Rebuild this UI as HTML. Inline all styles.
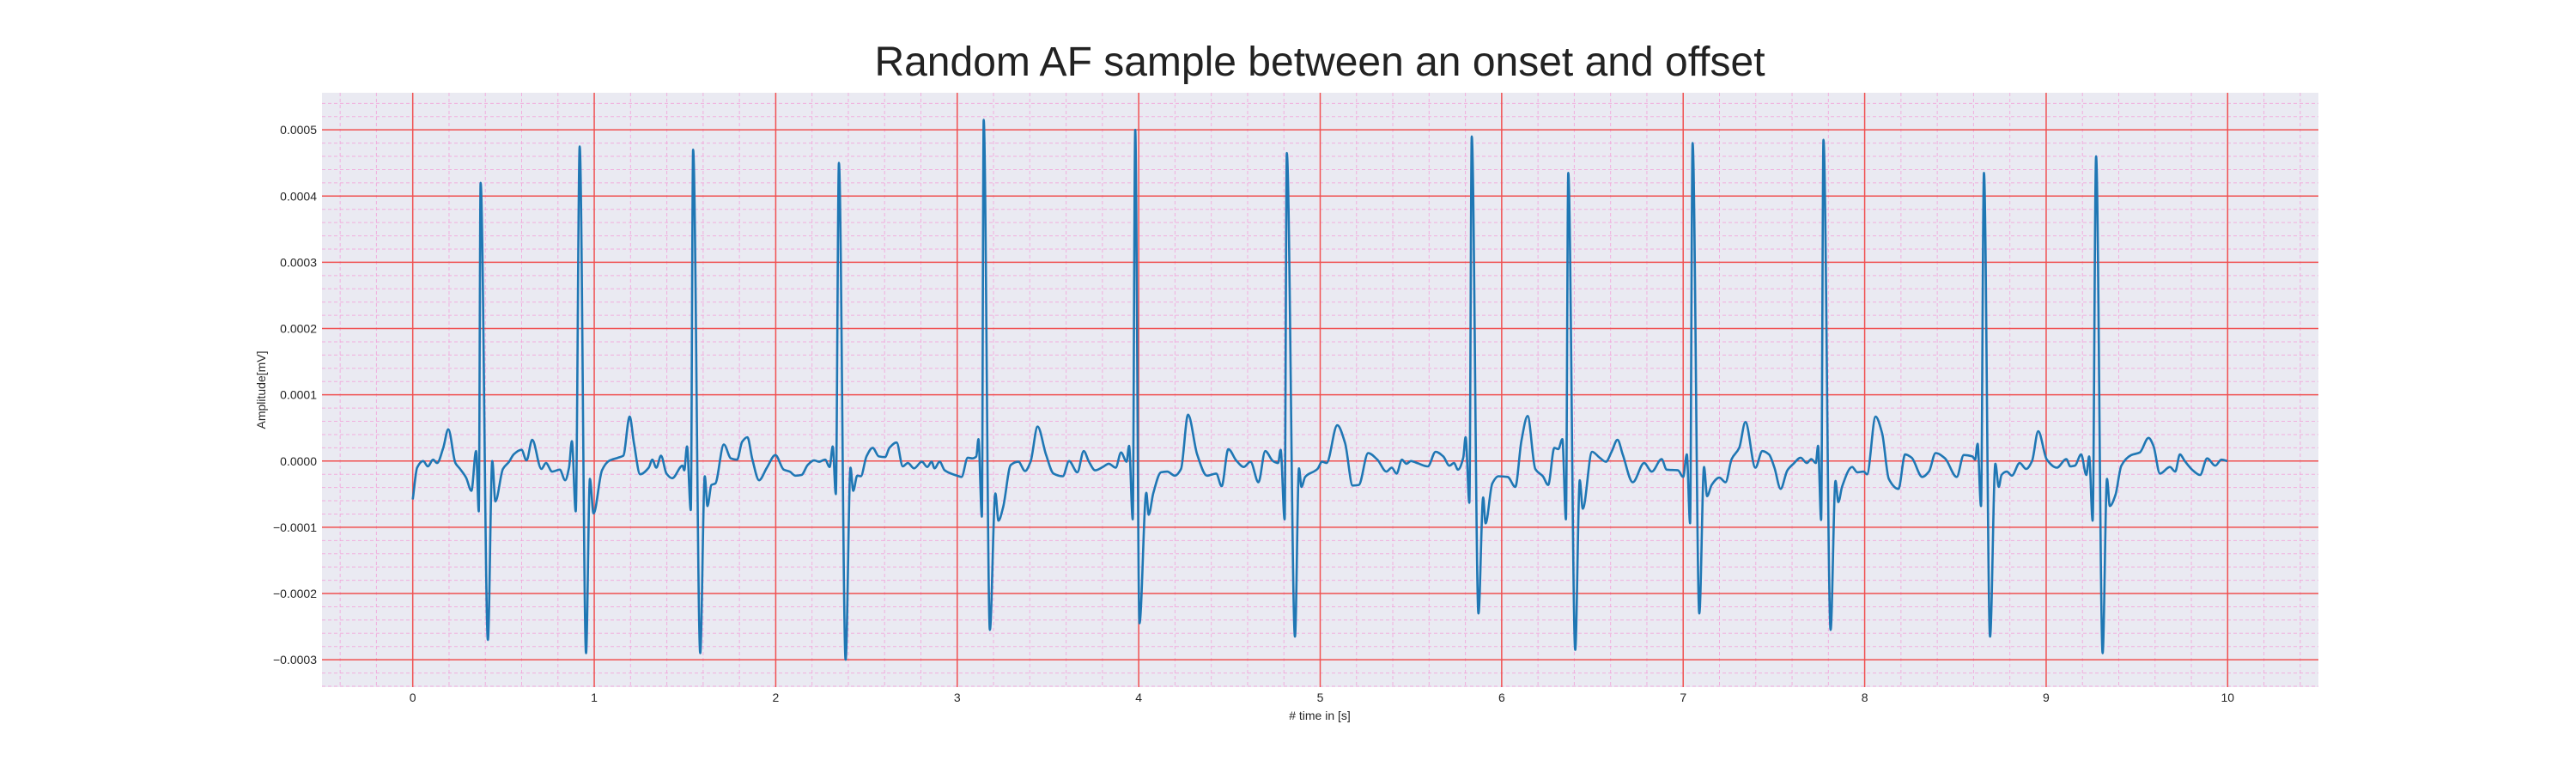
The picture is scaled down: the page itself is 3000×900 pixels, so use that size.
<!DOCTYPE html>
<html><head><meta charset="utf-8"><title>Random AF sample</title>
<style>html,body{margin:0;padding:0;background:#fff}svg{display:block}text{font-family:"Liberation Sans",sans-serif}</style>
</head><body>
<svg id="chart" width="3000" height="900" viewBox="0 0 3000 900" xmlns="http://www.w3.org/2000/svg">
<text x="1537" y="88" font-size="48" text-anchor="middle" fill="#222">Random AF sample between an onset and offset</text>
<rect x="375" y="108" width="2325" height="692" fill="#eaeaf2"/>
<g id="grid"></g>
<g id="ticks"></g>
<g id="series"></g>
<text x="1537" y="838" font-size="14" text-anchor="middle" fill="#262626"># time in [s]</text>
<text x="0" y="0" font-size="14" text-anchor="middle" fill="#262626" transform="translate(309,454) rotate(-90)">Amplitude[mV]</text>
</svg>
<script>
// data: time in seconds, amplitude in units of 1e-5 mV
const times = [0,0.024,0.058,0.083,0.112,0.134,0.168,0.196,0.235,0.261,0.294,0.323,0.349,0.364,0.374,0.414,0.438,0.455,0.497,0.531,0.556,0.599,0.627,0.658,0.709,0.734,0.768,0.81,0.84,0.861,0.877,0.898,0.92,0.955,0.976,0.996,1.043,1.08,1.131,1.16,1.195,1.219,1.253,1.3,1.32,1.342,1.368,1.398,1.43,1.486,1.496,1.511,1.532,1.545,1.584,1.609,1.624,1.646,1.667,1.714,1.753,1.787,1.815,1.844,1.871,1.908,1.951,1.998,2.044,2.077,2.108,2.142,2.176,2.212,2.238,2.272,2.297,2.314,2.331,2.348,2.385,2.412,2.427,2.449,2.469,2.5,2.534,2.568,2.602,2.627,2.666,2.7,2.728,2.762,2.805,2.835,2.859,2.875,2.903,2.931,2.999,3.024,3.058,3.083,3.105,3.117,3.136,3.146,3.18,3.21,3.227,3.252,3.295,3.337,3.374,3.404,3.443,3.489,3.531,3.582,3.616,3.662,3.697,3.726,3.76,3.802,3.835,3.873,3.903,3.933,3.947,3.967,3.981,4.004,4.042,4.055,4.08,4.123,4.157,4.199,4.233,4.272,4.322,4.376,4.427,4.457,4.494,4.537,4.579,4.616,4.66,4.697,4.74,4.768,4.782,4.804,4.816,4.861,4.883,4.897,4.917,4.985,5.01,5.035,5.094,5.137,5.179,5.213,5.264,5.315,5.365,5.394,5.421,5.45,5.475,5.5,5.534,5.593,5.636,5.678,5.712,5.737,5.759,5.788,5.801,5.822,5.835,5.872,5.898,5.911,5.948,5.982,6.033,6.075,6.109,6.143,6.185,6.227,6.256,6.29,6.312,6.334,6.354,6.367,6.405,6.43,6.447,6.498,6.54,6.574,6.607,6.638,6.667,6.722,6.785,6.827,6.881,6.909,6.971,7.0,7.02,7.038,7.052,7.089,7.115,7.132,7.157,7.199,7.233,7.267,7.309,7.343,7.398,7.436,7.473,7.503,7.537,7.574,7.608,7.647,7.681,7.706,7.731,7.743,7.76,7.773,7.812,7.839,7.855,7.875,7.931,7.959,7.994,8.013,8.06,8.096,8.133,8.186,8.223,8.259,8.317,8.354,8.391,8.443,8.507,8.546,8.593,8.609,8.622,8.641,8.657,8.691,8.72,8.739,8.754,8.783,8.811,8.854,8.89,8.922,8.956,9.004,9.059,9.111,9.133,9.158,9.193,9.221,9.237,9.256,9.275,9.311,9.335,9.351,9.382,9.414,9.469,9.516,9.564,9.591,9.627,9.682,9.711,9.737,9.764,9.808,9.848,9.887,9.932,9.966,9.998];
const values = [-5.8,-1.0,0,-0.8,0.2,-0.3,2.0,4.8,-0.3,-1.2,-2.5,-4.5,1.5,-7.6,42,-27,0,-6.1,-1.2,-0.1,1.0,1.7,0.1,3.2,-1.2,-0.3,-1.6,-1.3,-2.9,-1.0,3.0,-7.6,47.5,-29,-2.7,-7.9,-1.4,0,0.5,0.8,6.7,2.7,-2.0,-1.0,0.2,-1.0,0.8,-1.9,-2.6,-0.7,-1.4,2.2,-7.4,47,-29,-2.3,-6.8,-3.6,-3.4,2.5,0.4,0.2,2.9,3.6,0.3,-2.9,-1.0,0.9,-1.3,-1.6,-2.2,-2.1,-0.6,0.1,-0.1,0.2,-0.9,2.2,-5.0,45,-30,-1.0,-4.5,-2.2,-2.3,0.7,2.0,0.7,0.6,2.0,2.8,-0.8,-0.3,-1.1,-0.1,-0.9,-0.1,-1.1,-0.1,-1.4,-2.2,-2.4,0.5,0.4,0.7,3.3,-8.4,51.5,-25.5,-4.9,-9.0,-7.1,-0.6,-0.1,-1.5,-0.1,5.2,1.0,-1.9,-2.3,0,-1.7,1.5,-0.1,-1.4,-0.9,-0.4,-1.0,1.3,-0.1,2.3,-8.8,50,-24.5,-4.8,-8.1,-4.9,-1.7,-1.6,-2.2,-1.2,7.0,1.0,-2.2,-1.9,-3.8,1.8,0.1,-0.9,-0.1,-3.2,1.5,0,-0.3,1.7,-8.8,46.5,-26.5,-1.1,-3.9,-2.4,-1.2,-0.1,-0.3,5.4,2.7,-3.7,-3.6,1.2,0.2,-1.6,-1.0,-1.9,0.2,-0.4,0,-0.3,-0.8,1.4,0.7,-0.7,-0.3,-1.3,0.5,3.6,-6.3,49,-23,-5.5,-9.4,-3.4,-2.3,-2.4,-3.9,3.1,6.8,-1.2,-2.3,-3.6,2.0,1.8,3.3,-8.8,43.5,-28.5,-2.9,-7.2,1.4,0.5,-0.1,1.5,3.2,1.0,-3.2,-0.3,-1.6,0.3,-1.3,-1.4,-2.4,1.0,-9.4,48,-23,-0.9,-5.3,-3.6,-2.5,-3.2,0.3,2.0,5.9,-1.0,1.5,1.0,-1.0,-4.2,-1.4,-0.4,0.5,-0.3,0.3,-0.3,2.3,-8.9,48.5,-25.5,-3.0,-6.2,-3.9,-0.9,-1.7,-1.6,-2.0,6.7,4.2,-2.7,-4.2,1.0,0.5,-2.4,-1.6,1.2,0.4,-2.4,0.9,0.7,0.2,2.6,-6.8,43.5,-26.5,-0.4,-3.9,-2.1,-1.6,-2.2,-0.3,-1.2,0,4.5,0.2,-1.0,0.3,-0.8,-0.7,1.0,-2.1,0.7,-9.0,46,-29,-2.7,-6.8,-5.1,-0.7,0.9,1.3,3.5,2.3,-1.9,-0.9,-1.6,1.0,0,-1.4,-2.1,0.4,-0.7,0.2,0];
const xTickLabels = ["0","1","2","3","4","5","6","7","8","9","10"];
const yTickLabels = ["\u22120.0003","\u22120.0002","\u22120.0001","0.0000","0.0001","0.0002","0.0003","0.0004","0.0005"];
const yTickValues = [-30,-20,-10,0,10,20,30,40,50];

const NS="http://www.w3.org/2000/svg";
const X0=375,X1=2700,Y0=108,Y1=800,TMIN=-0.5,TMAX=10.5,VMIN=-34.13,VMAX=55.6;
function xs(t){return X0+(t-TMIN)/(TMAX-TMIN)*(X1-X0);}
function ys(v){return Y1-(v-VMIN)/(VMAX-VMIN)*(Y1-Y0);}
function mk(tag,attrs,parent){const e=document.createElementNS(NS,tag);for(const k in attrs)e.setAttribute(k,attrs[k]);parent.appendChild(e);return e;}
const grid=document.getElementById('grid'),ticks=document.getElementById('ticks'),series=document.getElementById('series');
for(let i=-2;i<=52;i++){const t=i*0.2;if(i%5===0)continue;const x=xs(t);
 const l=mk('line',{x1:x,x2:x,y1:Y0,y2:Y1,stroke:'#f2a0d8','stroke-width':1,'stroke-dasharray':'4,3','stroke-opacity':0.8},grid);
 
 }
for(let i=-17;i<=27;i++){const v=i*2;if(i%5===0)continue;const y=ys(v);
 const l=mk('line',{x1:X0,x2:X1,y1:y,y2:y,stroke:'#f2a0d8','stroke-width':1,'stroke-dasharray':'4,3','stroke-opacity':0.8},grid);
 
 }
xTickLabels.forEach((lab,i)=>{const x=xs(i);
 const l=mk('line',{x1:x,x2:x,y1:Y0,y2:Y1,stroke:'#f05050','stroke-width':1.5},grid);
 
 
 const tx=mk('text',{x:x,y:817,'font-size':14,'text-anchor':'middle',fill:'#262626'},ticks);tx.textContent=lab;
 
 });
yTickValues.forEach((v,i)=>{const y=ys(v);
 const l=mk('line',{x1:X0,x2:X1,y1:y,y2:y,stroke:'#f05050','stroke-width':1.5},grid);
 
 
 const tx=mk('text',{x:369,y:y+5,'font-size':14,'text-anchor':'end',fill:'#262626'},ticks);tx.textContent=yTickLabels[i];
 
 });
// monotone cubic (no overshoot)
const X=times.map(xs),Y=values.map(ys),n=X.length;
const dl=[],m=[];
for(let i=0;i<n-1;i++)dl.push((Y[i+1]-Y[i])/(X[i+1]-X[i]));
m[0]=dl[0];m[n-1]=dl[n-2];
for(let i=1;i<n-1;i++){if(dl[i-1]*dl[i]<=0)m[i]=0;else{const h0=X[i]-X[i-1],h1=X[i+1]-X[i];const w1=2*h1+h0,w2=h1+2*h0;m[i]=(w1+w2)/(w1/dl[i-1]+w2/dl[i]);}}
let d='M'+X[0].toFixed(1)+','+Y[0].toFixed(1);
for(let i=0;i<n-1;i++){const h=(X[i+1]-X[i])/3;
 d+='C'+(X[i]+h).toFixed(1)+','+(Y[i]+m[i]*h).toFixed(1)+' '+(X[i+1]-h).toFixed(1)+','+(Y[i+1]-m[i+1]*h).toFixed(1)+' '+X[i+1].toFixed(1)+','+Y[i+1].toFixed(1);}
const p=mk('path',{d:d,fill:'none',stroke:'#1f77b4','stroke-width':2.6,'stroke-linejoin':'round'},series);


</script>
</body></html>
